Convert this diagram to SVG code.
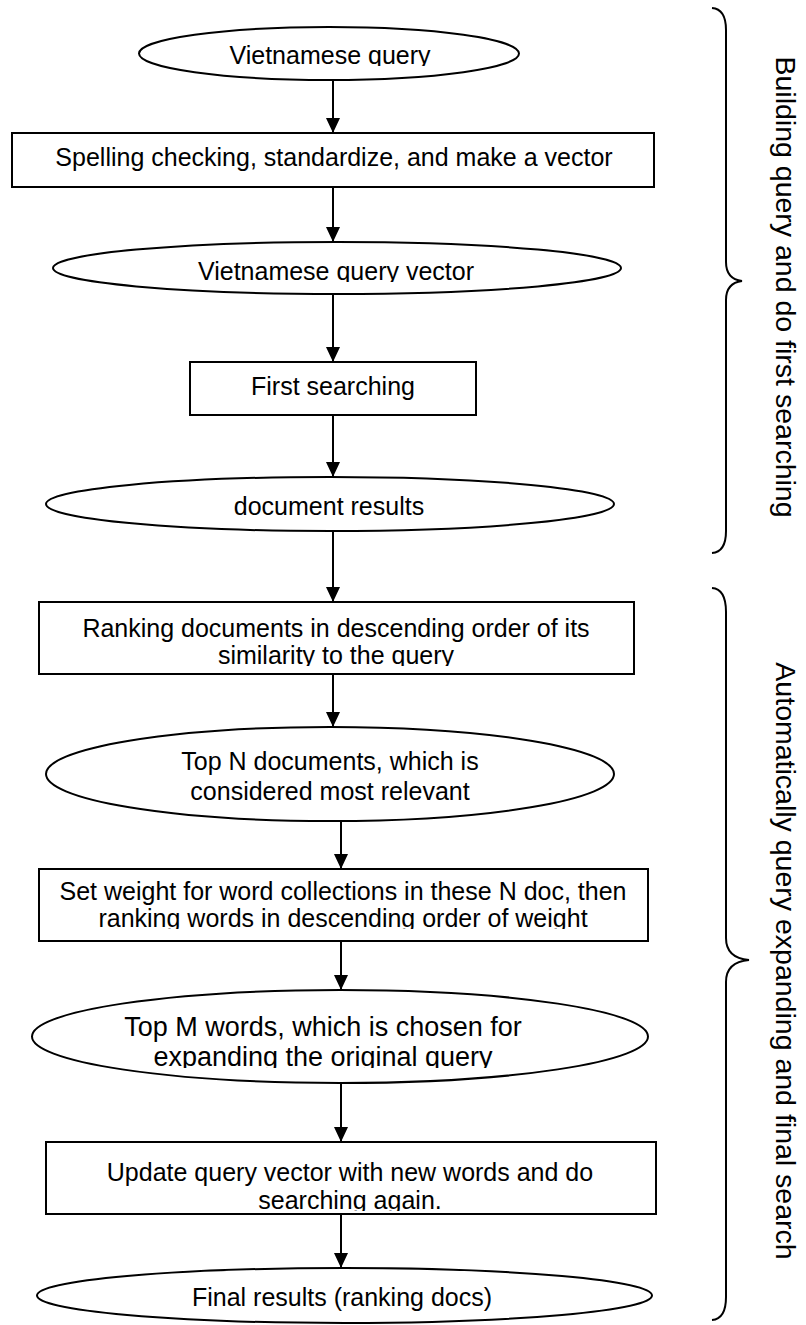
<svg xmlns="http://www.w3.org/2000/svg" width="806" height="1325" viewBox="0 0 806 1325">
<style>
.shape{fill:#fff;stroke:#000;stroke-width:2}
.t{font-family:"Liberation Sans",Arial,sans-serif;font-size:25px;fill:#000;text-anchor:middle}
.t27{font-size:27px}
.side{font-family:"Liberation Sans",Arial,sans-serif;font-size:28.5px;fill:#000;text-anchor:middle}
.conn line{stroke:#000;stroke-width:2;fill:none}
.brace{fill:none;stroke:#000;stroke-width:2}
</style>
<defs>
<marker id="ah" viewBox="0 0 15 14" refX="15" refY="7" markerWidth="15" markerHeight="14" markerUnits="userSpaceOnUse" orient="auto">
<path d="M0,0 L15,7 L0,14 Z" fill="#000"/>
</marker>
<clipPath id="c1"><rect x="0" y="0" width="806" height="66"/></clipPath>
<clipPath id="c2"><rect x="0" y="200" width="806" height="82"/></clipPath>
<clipPath id="c3"><rect x="0" y="640" width="806" height="26"/></clipPath>
<clipPath id="c4"><rect x="0" y="905" width="806" height="24"/></clipPath>
<clipPath id="c5"><rect x="0" y="1040" width="806" height="28"/></clipPath>
<clipPath id="c6"><rect x="0" y="1188" width="806" height="23"/></clipPath>
</defs>

<g id="connectors" class="conn">
<line x1="333" y1="80" x2="333" y2="133" marker-end="url(#ah)"/>
<line x1="333" y1="187" x2="333" y2="242" marker-end="url(#ah)"/>
<line x1="333" y1="294" x2="333" y2="362" marker-end="url(#ah)"/>
<line x1="333" y1="415" x2="333" y2="477" marker-end="url(#ah)"/>
<line x1="333" y1="531" x2="333" y2="602" marker-end="url(#ah)"/>
<line x1="333" y1="674" x2="333" y2="727" marker-end="url(#ah)"/>
<line x1="341" y1="821" x2="341" y2="869" marker-end="url(#ah)"/>
<line x1="341" y1="941" x2="341" y2="990" marker-end="url(#ah)"/>
<line x1="341" y1="1083" x2="341" y2="1142" marker-end="url(#ah)"/>
<line x1="341" y1="1214" x2="341" y2="1268" marker-end="url(#ah)"/>
</g>

<g id="n1">
<ellipse class="shape" cx="329" cy="53.5" rx="190" ry="26.5"/>
<text class="t" x="330" y="64" clip-path="url(#c1)">Vietnamese query</text>
</g>

<g id="n2">
<rect class="shape" x="12" y="133" width="642" height="54"/>
<text class="t" x="334" y="166">Spelling checking, standardize, and make a vector</text>
</g>

<g id="n3">
<ellipse class="shape" cx="337" cy="268" rx="284" ry="26"/>
<text class="t" x="336" y="280" clip-path="url(#c2)">Vietnamese query vector</text>
</g>

<g id="n4">
<rect class="shape" x="190" y="362" width="286" height="53"/>
<text class="t" x="333" y="395">First searching</text>
</g>

<g id="n5">
<ellipse class="shape" cx="330" cy="504" rx="284" ry="27"/>
<text class="t" x="329" y="515">document results</text>
</g>

<g id="n6">
<rect class="shape" x="39" y="602" width="595" height="72"/>
<text class="t" x="336" y="637">Ranking documents in descending order of its</text>
<text class="t" x="336" y="664" clip-path="url(#c3)">similarity to the query</text>
</g>

<g id="n7">
<ellipse class="shape" cx="330" cy="774" rx="284" ry="47"/>
<text class="t" x="330" y="770">Top N documents, which is</text>
<text class="t" x="330" y="800">considered most relevant</text>
</g>

<g id="n8">
<rect class="shape" x="39" y="869" width="609" height="72"/>
<text class="t" x="343" y="900">Set weight for word collections in these N doc, then</text>
<text class="t" x="343" y="927" clip-path="url(#c4)">ranking words in descending order of weight</text>
</g>

<g id="n9">
<ellipse class="shape" cx="340" cy="1036.5" rx="308" ry="46.5"/>
<text class="t t27" x="323" y="1036">Top M words, which is chosen for</text>
<text class="t t27" x="323" y="1066" clip-path="url(#c5)">expanding the original query</text>
</g>

<g id="n10">
<rect class="shape" x="46" y="1142" width="610" height="72"/>
<text class="t" x="350" y="1181">Update query vector with new words and do</text>
<text class="t" x="350" y="1209" clip-path="url(#c6)">searching again.</text>
</g>

<g id="n11">
<ellipse class="shape" cx="344.5" cy="1295.5" rx="307.5" ry="27.5"/>
<text class="t" x="342" y="1306">Final results (ranking docs)</text>
</g>

<g id="brace1">
<path class="brace" d="M712,8 Q726,9 726,30 L726,262 Q726,279 742,281 Q726,283 726,300 L726,531 Q726,552 712,553"/>
<text class="side" transform="translate(776,287) rotate(90)">Building query and do first searching</text>
</g>

<g id="brace2">
<path class="brace" d="M712,588 Q726,589 726,612 L726,938 Q726,958 749,960 Q726,962 726,982 L726,1297 Q726,1319 712,1320"/>
<text class="side" transform="translate(776,961) rotate(90)">Automatically query expanding and final search</text>
</g>
</svg>
